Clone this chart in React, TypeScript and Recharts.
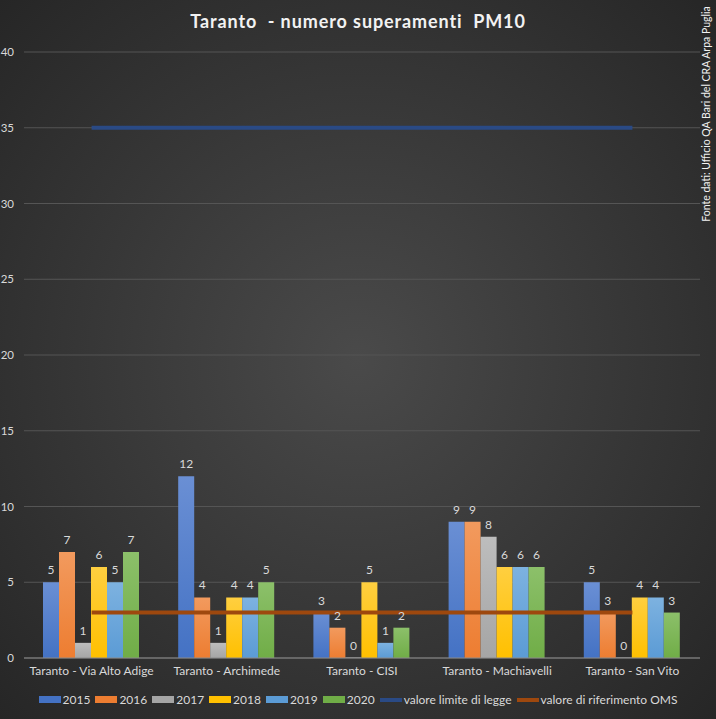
import { ComposedChart, Bar, Line, XAxis, YAxis, CartesianGrid, LabelList } from 'recharts'

const categories = [
  'Taranto - Via Alto Adige',
  'Taranto -  Archimede',
  'Taranto -  CISI',
  'Taranto -  Machiavelli',
  'Taranto - San Vito',
]
const years = ['2015', '2016', '2017', '2018', '2019', '2020']
const v2015 = [5, 12, 3, 9, 5]
const v2016 = [7, 4, 2, 9, 3]
const v2017 = [1, 1, 0, 8, 0]
const v2018 = [6, 4, 5, 6, 4]
const v2019 = [5, 4, 1, 6, 4]
const v2020 = [7, 5, 2, 6, 3]
const limiteLegge = [35, 35, 35, 35, 35]
const riferimentoOms = [3, 3, 3, 3, 3]
const yTicks = [0, 5, 10, 15, 20, 25, 30, 35, 40]

const seriesValues = [v2015, v2016, v2017, v2018, v2019, v2020]

// colori tema Office
const BAR_COLORS = ['#4472C4', '#ED7D31', '#A5A5A5', '#FFC000', '#5B9BD5', '#70AD47']
const BAR_LIGHT = ['#6a8fd4', '#f29a5e', '#bdbdbd', '#ffcf40', '#7db2e0', '#8cc06a']
const LIMIT = '#2a4a85'
const OMS = '#9E480E'
const TEXT = '#d9d9d9'
const GRID = '#555555'
const FONT = 'Lato, "Open Sans", sans-serif'

const data = categories.map((name, i) => {
  const row: Record<string, string | number> = { name }
  years.forEach((y, s) => {
    row[y] = seriesValues[s][i]
  })
  row.limite = limiteLegge[i]
  row.oms = riferimentoOms[i]
  return row
})

function Legend() {
  const items = [
    ...years.map((y, i) => ({ label: y, color: BAR_COLORS[i], thin: false })),
    { label: 'valore limite di legge', color: LIMIT, thin: true },
    { label: 'valore di riferimento OMS', color: OMS, thin: true },
  ]
  return (
    <div
      style={{
        position: 'absolute',
        top: 692,
        left: 0,
        width: 716,
        display: 'flex',
        justifyContent: 'center',
        gap: 5,
        fontFamily: FONT,
        fontSize: 12,
        color: TEXT,
      }}
    >
      {items.map((it) => (
        <span key={it.label} style={{ display: 'flex', alignItems: 'center', gap: 2 }}>
          <span
            style={{
              display: 'inline-block',
              width: 22,
              height: it.thin ? 4 : 7,
              background: it.color,
            }}
          />
          {it.label}
        </span>
      ))}
    </div>
  )
}

export default function App() {
  return (
    <div
      style={{
        position: 'relative',
        width: 716,
        height: 719,
        overflow: 'hidden',
        background: 'radial-gradient(ellipse at 50% 50%, #4a4a4a 0%, #383838 50%, #262626 100%)',
      }}
    >
      <style>{'body{margin:0}'}</style>
      <div
        style={{
          position: 'absolute',
          top: 10,
          left: 0,
          width: 716,
          textAlign: 'center',
          fontFamily: FONT,
          fontSize: 18,
          fontWeight: 'bold',
          color: '#f2f2f2',
          letterSpacing: 0.9,
          whiteSpace: 'pre',
        }}
      >
        {'Taranto  - numero superamenti  PM10'}
      </div>
      <div
        style={{
          position: 'absolute',
          left: 706,
          top: 114,
          transform: 'translate(-50%, -50%) rotate(-90deg)',
          fontFamily: FONT,
          fontSize: 10.5,
          color: '#f2f2f2',
          whiteSpace: 'nowrap',
        }}
      >
        Fonte dati: Ufficio QA Bari del CRA Arpa Puglia
      </div>
      <ComposedChart
        width={716}
        height={719}
        data={data}
        margin={{ top: 52, right: 16, bottom: 31, left: 0 }}
        barGap={0}
        barCategoryGap={19}
      >
        <defs>
          {BAR_COLORS.map((c, i) => (
            <linearGradient key={c} id={`g${i}`} x1="0" y1="0" x2="0" y2="1">
              <stop offset="0%" stopColor={BAR_LIGHT[i]} />
              <stop offset="100%" stopColor={c} />
            </linearGradient>
          ))}
        </defs>
        <CartesianGrid vertical={false} stroke={GRID} />
        <XAxis
          dataKey="name"
          height={30}
          tickLine={false}
          axisLine={{ stroke: '#8a8a8a' }}
          tick={{ fill: TEXT, fontSize: 12, fontFamily: FONT }}
          interval={0}
        />
        <YAxis
          width={24}
          domain={[0, 40]}
          ticks={yTicks}
          tickLine={false}
          tickSize={6}
          axisLine={false}
          tick={{ fill: TEXT, fontSize: 11.5, fontFamily: FONT }}
          tickMargin={4}
        />
        {years.map((y, i) => (
          <Bar key={y} dataKey={y} fill={`url(#g${i})`} minPointSize={0.5} isAnimationActive={false}>
            <LabelList
              dataKey={y}
              position="top"
              offset={8}
              fill={TEXT}
              fontSize={12}
              fontFamily={FONT}
            />
          </Bar>
        ))}
        <Line
          dataKey="limite"
          stroke={LIMIT}
          strokeWidth={4}
          dot={false}
          activeDot={false}
          isAnimationActive={false}
        />
        <Line
          dataKey="oms"
          stroke={OMS}
          strokeWidth={4}
          dot={false}
          activeDot={false}
          isAnimationActive={false}
        />
      </ComposedChart>
      <Legend />
    </div>
  )
}
